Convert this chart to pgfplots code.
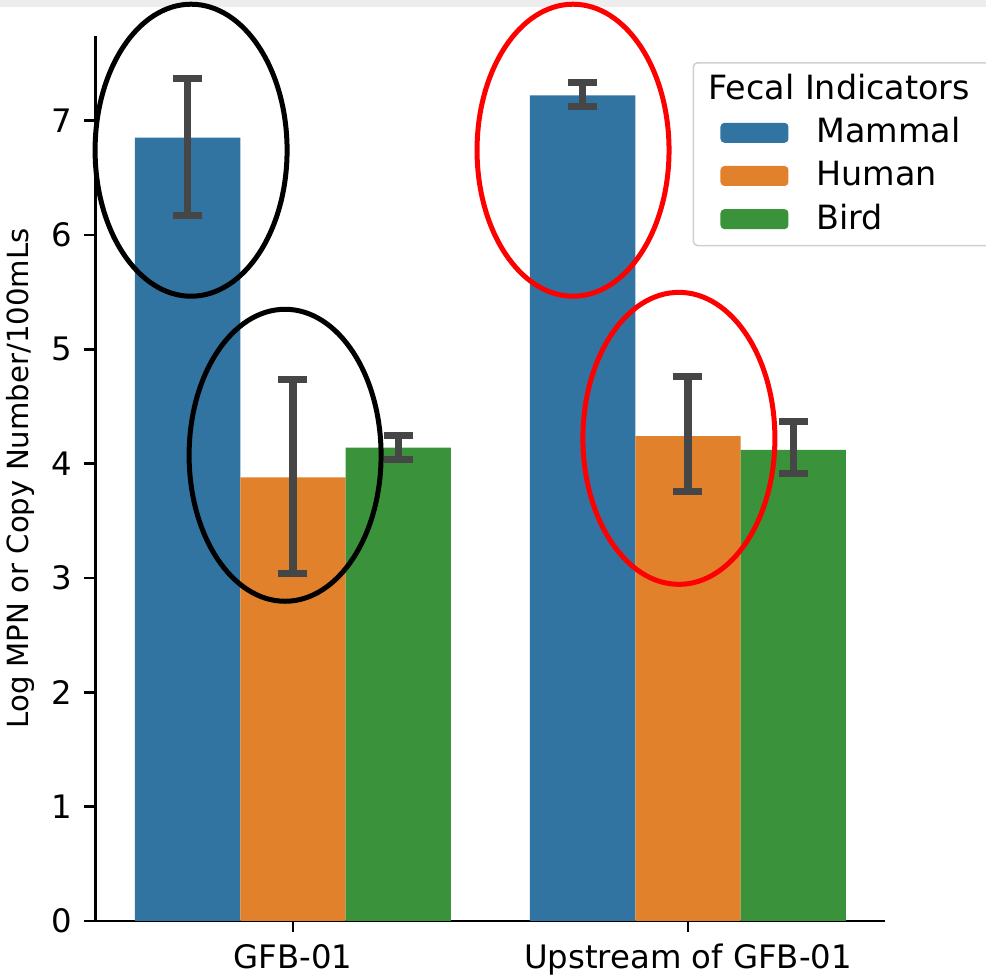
\documentclass[border=0pt]{standalone}
\usepackage{pgfplots}
\pgfplotsset{compat=1.18}
\usepackage{fontspec}
\setmainfont{DejaVu Sans}
\definecolor{cblue}{HTML}{3274A1}
\definecolor{corange}{HTML}{E1812C}
\definecolor{cgreen}{HTML}{3A923A}
\definecolor{errgray}{HTML}{464646}
\definecolor{legframe}{HTML}{D0D0D0}
\begin{document}
\begin{tikzpicture}
\path[use as bounding box] (0,0) rectangle (9.86cm,9.76cm);
\fill[black!7] (0,9.69cm) rectangle (9.86cm,9.76cm);
\begin{axis}[
  at={(0.955cm,0.55cm)}, anchor=south west,
  scale only axis, width=7.90cm, height=8.85cm,
  xmin=-0.5, xmax=1.5, ymin=0, ymax=7.74,
  axis x line*=bottom, axis y line*=left,
  axis line style={-, line width=0.25mm, black},
  xtick={0,1}, xticklabels={GFB-01, Upstream of GFB-01},
  ytick={0,1,2,3,4,5,6,7},
  tick align=outside, major tick length=1.1mm,
  tick style={line width=0.25mm, black},
  /pgf/number format/assume math mode=true,
  tick label style={font=\fontsize{9.2}{11}\selectfont},
  ylabel={Log MPN or Copy Number/100mLs},
  every axis y label/.style={at={(axis description cs:-0.0956,0.5)}, rotate=90, anchor=center, font=\fontsize{8.3}{10}\selectfont},
  clip=false,
  legend cell align=left,
  legend style={at={(axis description cs:0.756,0.9706)}, anchor=north west,
    draw=legframe, line width=0.15mm, rounded corners=0.4mm, fill=white,
    font=\fontsize{9.5}{11}\selectfont, inner xsep=2.7mm, inner ysep=0.4mm, row sep=-0.1mm,
    /tikz/every odd column/.append style={column sep=2.1mm}},
]
\addlegendimage{empty legend}
\addlegendentry{\hspace*{-10.8mm}Fecal Indicators\hspace*{0.6mm}}
\addplot[ybar, bar width=0.26667, bar shift=0pt, fill=cblue, draw=none,
  legend image code/.code={\fill[cblue] (0mm,-1mm) rectangle (6.8mm,1mm);}]
  coordinates {(-0.26667,6.85) (0.73333,7.22)};
\addlegendentry{Mammal}
\addplot[ybar, bar width=0.26667, bar shift=0pt, fill=corange, draw=none,
  legend image code/.code={\fill[corange] (0mm,-1mm) rectangle (6.8mm,1mm);}]
  coordinates {(0,3.88) (1,4.24)};
\addlegendentry{Human}
\addplot[ybar, bar width=0.26667, bar shift=0pt, fill=cgreen, draw=none,
  legend image code/.code={\fill[cgreen] (0mm,-1mm) rectangle (6.8mm,1mm);}]
  coordinates {(0.26667,4.14) (1.26667,4.12)};
\addlegendentry{Bird}
\addplot[draw=none, mark=none, forget plot,
  error bars/.cd, y dir=both, y explicit,
  error bar style={line width=0.75mm, color=errgray},
  error mark options={rotate=90, line width=0.7mm, color=errgray, mark size=1.45mm}]
  coordinates {
    (-0.26667,6.85) += (0,0.52) -= (0,0.68)
    (0,3.88) += (0,0.86) -= (0,0.84)
    (0.26667,4.14) += (0,0.11) -= (0,0.10)
    (0.73333,7.22) += (0,0.11) -= (0,0.10)
    (1,4.24) += (0,0.52) -= (0,0.48)
    (1.26667,4.12) += (0,0.25) -= (0,0.21)
  };
\draw[black, line width=0.5mm] (axis cs:-0.258,6.741) ellipse [x radius=0.96cm, y radius=1.46cm];
\draw[black, line width=0.5mm] (axis cs:-0.020,4.073) ellipse [x radius=0.96cm, y radius=1.46cm];
\draw[red, line width=0.5mm] (axis cs:0.709,6.741) ellipse [x radius=0.96cm, y radius=1.46cm];
\draw[red, line width=0.5mm] (axis cs:0.977,4.221) ellipse [x radius=0.96cm, y radius=1.46cm];
\end{axis}
\end{tikzpicture}
\end{document}
